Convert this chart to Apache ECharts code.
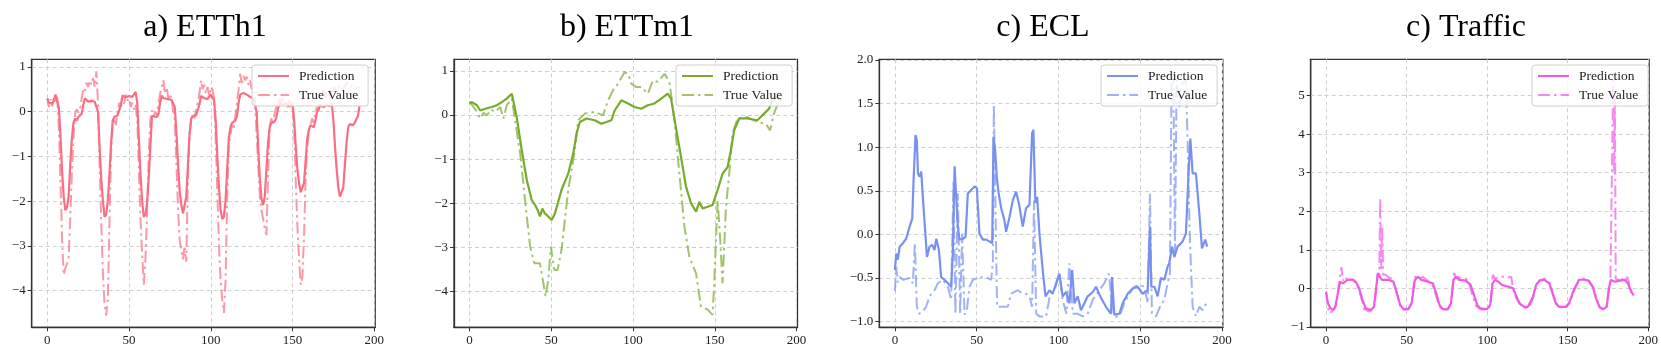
<!DOCTYPE html>
<html>
<head>
<meta charset="utf-8">
<script src="https://cdn.jsdelivr.net/npm/echarts@6/dist/echarts.min.js"></script>
<style>
  body { margin: 0; background: #fff; }
  #chart { width: 1661px; height: 362px; }
</style>
</head>
<body>
<div id="chart"></div>
<script>
// panel titles and tick values
const titles = ['a) ETTh1', 'b) ETTm1', 'c) ECL', 'c) Traffic'];
const xTicks = [0, 50, 100, 150, 200];
const yTicksETTh1 = [-4, -3, -2, -1, 0, 1];
const yTicksETTm1 = [-4, -3, -2, -1, 0, 1];
const yTicksECL = [-1.0, -0.5, 0.0, 0.5, 1.0, 1.5, 2.0];
const yTicksTraffic = [-1, 0, 1, 2, 3, 4, 5];

// [step, value]
const etth1Pred = [[0,0.29],[1,0.2],[2,0.22],[3,0.18],[4,0.25],[5,0.38],[6,0.36],[7,0.1],[8,-0.5],[9,-1.3],[10,-1.9],[11,-2.2],[12,-2.15],[13,-1.9],[14,-1.2],[15,-0.6],[16,-0.25],[17,-0.15],[18,-0.2],[19,-0.12],[20,-0.15],[21,-0.05],[22,0.15],[23,0.3],[24,0.28],[25,0.22],[27,0.24],[29,0.22],[30,0.26],[31,0.0],[32,-0.8],[33,-1.5],[34,-2.0],[35,-2.35],[36,-2.3],[37,-2.0],[38,-1.4],[39,-0.7],[40,-0.2],[41,-0.12],[43,-0.08],[44,-0.05],[45,0.15],[46,0.36],[48,0.32],[50,0.35],[52,0.33],[53,0.36],[54,0.44],[55,0.2],[56,-0.6],[57,-1.4],[58,-2.0],[59,-2.35],[60,-2.3],[61,-2.05],[62,-1.5],[63,-0.8],[64,-0.1],[65,-0.08],[67,-0.12],[68,-0.05],[69,0.2],[70,0.36],[71,0.3],[72,0.26],[74,0.28],[76,0.26],[77,0.27],[78,0.1],[79,-0.5],[80,-1.2],[81,-1.8],[82,-2.1],[83,-2.27],[84,-2.25],[85,-1.9],[86,-1.2],[87,-0.5],[88,-0.15],[89,-0.1],[91,-0.08],[92,-0.05],[93,0.15],[94,0.35],[96,0.3],[98,0.28],[100,0.38],[101,0.35],[102,0.25],[103,-0.2],[104,-1.0],[105,-1.7],[106,-2.2],[107,-2.4],[108,-2.35],[109,-2.0],[110,-1.3],[111,-0.6],[112,-0.35],[113,-0.25],[115,-0.2],[116,-0.1],[117,0.2],[118,0.38],[120,0.42],[122,0.38],[124,0.33],[126,0.3],[127,0.28],[128,0.0],[129,-0.8],[130,-1.5],[131,-1.95],[132,-2.09],[133,-1.9],[134,-1.3],[135,-0.7],[136,-0.35],[137,-0.25],[139,-0.22],[140,-0.15],[141,0.05],[142,0.2],[144,0.15],[146,0.18],[148,0.12],[150,0.15],[151,-0.2],[152,-0.8],[153,-1.3],[154,-1.6],[155,-1.8],[156,-1.83],[157,-1.6],[158,-1.1],[159,-0.6],[160,-0.4],[161,-0.3],[163,-0.35],[164,-0.2],[165,0.0],[166,0.05],[167,0.15],[169,0.1],[171,0.15],[173,0.12],[174,0.18],[175,-0.2],[176,-0.8],[177,-1.3],[178,-1.7],[179,-1.9],[180,-1.92],[181,-1.7],[182,-1.2],[183,-0.7],[184,-0.35],[185,-0.28],[187,-0.3],[188,-0.25],[190,-0.1],[191,0.14]];
const etth1True = [[0,0.3],[1,0.1],[2,0.28],[3,0.12],[4,0.3],[5,0.2],[6,0.35],[7,-0.3],[8,-1.5],[9,-2.8],[10,-3.65],[11,-3.5],[12,-3.4],[13,-3.3],[14,-2.4],[15,-1.4],[16,-0.6],[17,-0.05],[18,0.05],[19,-0.02],[20,0.05],[21,0.3],[22,0.5],[23,0.45],[24,0.65],[25,0.55],[26,0.7],[27,0.6],[28,0.75],[29,0.55],[30,0.9],[31,0.2],[32,-1.2],[33,-2.5],[34,-3.6],[35,-4.3],[36,-4.56],[37,-4.2],[38,-2.5],[39,-0.9],[40,-0.3],[41,-0.15],[42,-0.3],[43,0.0],[44,0.2],[45,0.1],[46,0.3],[47,0.18],[48,0.38],[49,0.25],[50,0.3],[51,0.1],[52,0.2],[53,0.05],[54,0.15],[55,-0.2],[56,-1.3],[57,-2.4],[58,-3.2],[59,-3.87],[60,-3.3],[61,-2.3],[62,-1.0],[63,-0.2],[64,0.03],[65,-0.1],[66,0.0],[67,-0.08],[68,0.2],[69,0.4],[70,0.55],[71,0.7],[72,0.4],[73,0.55],[74,0.3],[75,0.4],[76,0.25],[77,0.28],[78,-0.2],[79,-1.2],[80,-2.2],[81,-2.9],[82,-3.1],[83,-3.3],[84,-3.0],[85,-3.35],[86,-1.5],[87,-0.5],[88,-0.2],[89,-0.05],[90,-0.15],[91,0.05],[92,0.2],[93,0.4],[94,0.7],[95,0.5],[96,0.6],[97,0.4],[98,0.55],[99,0.35],[100,0.55],[101,0.5],[102,0.3],[103,-0.6],[104,-1.8],[105,-3.0],[106,-3.8],[107,-4.2],[108,-4.5],[109,-3.8],[110,-2.0],[111,-0.8],[112,-0.5],[113,-0.3],[114,-0.4],[115,-0.1],[116,0.2],[117,0.5],[118,0.85],[119,0.6],[120,0.8],[121,0.7],[122,0.78],[123,0.6],[124,0.7],[125,0.5],[126,0.55],[127,0.3],[128,-0.5],[129,-1.2],[130,-1.9],[131,-2.2],[132,-2.4],[133,-2.6],[134,-2.76],[135,-1.5],[136,-0.35],[137,-0.15],[138,-0.3],[139,-0.05],[140,0.1],[141,0.2],[142,0.33],[143,0.2],[144,0.3],[145,0.15],[146,0.2],[147,0.1],[148,0.25],[149,0.15],[150,0.2],[151,-0.4],[152,-1.6],[153,-2.6],[154,-3.3],[155,-3.87],[156,-3.7],[157,-2.8],[158,-1.5],[159,-0.8],[160,-0.42],[161,-0.3],[162,-0.15],[163,-0.25],[164,0.0],[165,0.1],[166,0.05],[167,0.25],[168,0.35],[169,0.48],[170,0.3],[171,0.45],[172,0.35],[173,0.5],[174,0.3],[175,0.55],[177,0.45],[179,0.6],[181,0.5],[183,0.65],[185,0.55],[187,0.6],[189,0.5],[191,0.55]];

const ettm1Pred = [[0,0.26],[1.4,0.29],[4.5,0.22],[6.5,0.1],[9.5,0.14],[13.6,0.18],[16.6,0.22],[19.7,0.29],[22.7,0.37],[25.8,0.48],[26.8,0.44],[28.8,-0.05],[31.9,-0.8],[35,-1.48],[38,-1.93],[40,-2.04],[41.6,-2.15],[43,-2.3],[44.5,-2.12],[46,-2.23],[48.1,-2.3],[50.2,-2.38],[52.2,-2.23],[56.2,-1.7],[60.3,-1.33],[63.4,-0.87],[65.4,-0.42],[67.4,-0.16],[71.5,-0.08],[76.5,-0.12],[80.6,-0.2],[83.7,-0.16],[86.7,-0.12],[88.7,0.1],[92.8,0.33],[96.9,0.26],[100.9,0.18],[105,0.14],[109,0.22],[113.1,0.26],[117.2,0.37],[121.2,0.48],[123.2,0.37],[126.3,-0.31],[129.3,-0.95],[132.4,-1.63],[135.4,-2.0],[138.5,-2.19],[140.5,-1.97],[142.5,-2.12],[145.6,-2.08],[148.6,-2.04],[151.7,-1.7],[154.7,-1.33],[157.8,-1.18],[159.8,-0.8],[161.8,-0.35],[164.9,-0.08],[169.9,-0.08],[176,-0.12],[180.1,0.03],[183.1,0.14],[186.2,0.41],[191,0.33]];
const ettm1True = [[0,0.3],[2.4,0.18],[4.5,0.07],[6.5,-0.08],[8.5,0.05],[10.6,-0.01],[13,0.12],[15.6,0.07],[18.7,0.18],[20.7,-0.08],[22.7,0.22],[25.8,0.37],[27.8,-0.12],[30.9,-0.87],[33.9,-1.93],[37,-2.98],[39.6,-3.36],[43,-3.36],[45.1,-3.81],[46.5,-4.11],[48.1,-3.74],[49.7,-2.98],[51.8,-3.51],[53.8,-3.51],[56.2,-3.06],[60.3,-1.7],[64.4,-0.8],[66.4,-0.12],[70.5,0.03],[76.5,0.07],[81.6,-0.01],[84.7,0.33],[87.7,0.56],[90.8,0.71],[94.8,0.97],[96.9,0.93],[98.9,0.71],[101.9,0.63],[105,0.63],[109,0.48],[112.1,0.78],[115.1,0.75],[119.2,0.93],[122.2,0.75],[125.3,-0.12],[128.3,-1.33],[131.4,-2.53],[134.4,-3.21],[138.5,-3.59],[141.5,-4.34],[145.6,-4.41],[148.6,-4.53],[149.6,-3.81],[151.7,-1.93],[153.3,-2.83],[154.7,-3.81],[156.8,-2.08],[158.8,-1.33],[160.8,-0.42],[163.9,-0.08],[169.9,-0.05],[176,-0.16],[181.1,-0.2],[183.8,-0.35],[186.2,0.03],[189.2,0.33],[191,0.33]];

const eclPred = [[0,-0.41],[0.8,-0.22],[1.8,-0.29],[2.9,-0.14],[4.9,-0.1],[6.9,-0.05],[9,0.09],[10.6,0.18],[11.4,0.62],[12.6,1.14],[13.4,1.08],[14.1,0.7],[15.1,0.66],[16.1,0.72],[17.1,0.43],[18.1,0.15],[19.6,-0.26],[21.2,-0.14],[22.8,-0.12],[24.2,-0.18],[25.3,-0.05],[26.9,-0.18],[28.3,-0.49],[31.4,-0.54],[34.4,-0.6],[35.4,-0.22],[36.5,0.78],[37.5,0.43],[38.5,0.09],[39.5,-0.06],[41.5,-0.05],[43.2,-0.03],[44.6,0.47],[46.6,0.51],[48.7,0.55],[50.1,0.53],[51.7,0.01],[53.8,-0.06],[55.8,-0.06],[57.8,-0.08],[59.5,-0.1],[60.3,1.12],[61.3,0.97],[62.3,0.66],[63.3,0.49],[65,0.3],[67,0.16],[68,0.03],[70.1,0.2],[72.1,0.39],[74.1,0.49],[75.8,0.36],[78.2,0.09],[80.2,0.3],[82.3,0.34],[83.9,1.16],[84.7,1.2],[85.9,0.36],[87,0.43],[88.4,0.01],[90.4,-0.41],[92.1,-0.71],[94.5,-0.64],[96.5,-0.68],[98.6,-0.56],[100.6,-0.45],[102.6,-0.71],[104.7,-0.66],[106.7,-0.79],[108.4,-0.41],[109.8,-0.79],[111.8,-0.71],[113.8,-0.87],[115.9,-0.79],[117.9,-0.71],[121,-0.66],[123,-0.6],[126.1,-0.73],[129.1,-0.83],[132.2,-0.91],[132.8,-0.49],[134.2,-0.92],[137.3,-0.91],[139.3,-0.79],[142.4,-0.68],[145.4,-0.62],[148.5,-0.6],[151.5,-0.68],[154.6,-0.64],[156,0.09],[156.8,-0.6],[158.7,-0.6],[160.7,-0.71],[162.7,-0.5],[164.8,-0.52],[166.8,-0.37],[167.8,-0.33],[169.5,-0.14],[170.9,-0.26],[172.9,-0.14],[176,-0.08],[178,0.01],[179.6,0.7],[180.7,1.1],[182.1,0.7],[184.1,0.7],[186.2,0.24],[187.8,-0.16],[189.8,-0.06],[191,-0.14]];
const eclTrue = [[0,-0.65],[0.8,-0.37],[1.8,-0.55],[2.9,-0.49],[4.9,-0.52],[9,-0.5],[11,-0.56],[12.2,-0.1],[13.4,-0.83],[14.7,-0.91],[16.7,-0.89],[19.1,-0.83],[21.2,-0.71],[24.2,-0.64],[26.3,-0.56],[29.3,-0.52],[32.4,-0.6],[34.4,-0.75],[35.8,0.62],[37,-0.91],[38.5,0.47],[39.9,-0.91],[41.1,0.01],[42.6,-0.92],[44,-0.87],[45.6,-0.6],[47.7,-0.52],[50.7,-0.5],[53.8,-0.49],[56.8,-0.5],[58.9,-0.52],[59.9,-0.33],[60.5,1.48],[61.5,0.32],[62.5,-0.83],[66,-0.83],[69,-0.83],[71.1,-0.68],[75.2,-0.64],[78.2,-0.68],[80.2,-0.68],[82.3,-0.71],[83.9,-0.83],[85.1,0.39],[86.4,-0.91],[88.4,-0.94],[92.5,-0.94],[94.5,-0.73],[97.6,-0.64],[100.6,-0.45],[102.6,-0.75],[104.9,-0.91],[106.7,-0.33],[108.8,-0.91],[111.8,-0.91],[114.9,-0.94],[117.9,-0.91],[121,-0.75],[125,-0.64],[128.1,-0.56],[130.8,-0.45],[132.2,-0.68],[134.2,-0.94],[137.3,-0.94],[140.3,-0.79],[143.4,-0.68],[146.4,-0.6],[149.5,-0.58],[152.5,-0.6],[154.6,-0.79],[156,0.47],[157.2,-0.91],[159.7,-0.94],[162.1,-0.83],[164.8,-0.75],[166.8,-0.56],[168.2,-0.45],[169.2,1.77],[170.3,1.86],[171.3,-0.22],[172.3,1.77],[173.9,1.46],[175.6,1.73],[178,1.77],[179,1.08],[180.4,-0.06],[182.1,-0.83],[184.1,-0.94],[186.2,-0.83],[188.2,-0.87],[191,-0.77]];

const trafficPred = [[0,-0.09],[1.2,-0.39],[2.8,-0.52],[4.3,-0.56],[5.7,-0.48],[7.3,-0.13],[8.7,0.17],[10.4,0.13],[13.4,0.22],[16.5,0.23],[18.5,0.17],[20.5,0],[22.6,-0.3],[24.6,-0.52],[27.7,-0.56],[29.7,-0.48],[30.7,-0.13],[32.1,0.39],[33.4,0.29],[34.8,0.22],[38.9,0.22],[41.9,0.17],[43.9,-0.13],[46,-0.43],[48,-0.54],[51,-0.54],[53.1,-0.39],[55.1,0.22],[57.2,0.3],[59.2,0.22],[63.3,0.17],[66.3,0.13],[68.4,-0.13],[70.4,-0.43],[72.4,-0.54],[75.5,-0.54],[77.5,-0.39],[79.1,0.22],[80.6,0.3],[82.6,0.22],[86.7,0.2],[89.7,0.09],[91.8,-0.17],[93.8,-0.43],[95.8,-0.52],[99.9,-0.54],[101.9,-0.43],[103.4,0.13],[105,0.22],[107,0.17],[109.1,0.09],[113.1,0.04],[116.2,0],[118.2,-0.22],[120.2,-0.39],[122.9,-0.48],[125.3,-0.48],[128.4,-0.22],[130.4,0.09],[132.5,0.2],[135.5,0.22],[138.6,0.13],[140.6,-0.13],[142.6,-0.39],[144.7,-0.48],[148.7,-0.48],[150.8,-0.39],[153.8,-0.04],[156.9,0.22],[159.9,0.23],[163,0.2],[165.6,0.04],[167.6,-0.26],[169.7,-0.48],[172.1,-0.54],[174.2,-0.48],[175.8,0.04],[176.8,0.22],[179.2,0.17],[182.3,0.2],[185.3,0.22],[187.4,0.13],[189.4,-0.09],[191,-0.17]];
const trafficTrue = [[0,-0.1],[1,-0.45],[2,-0.65],[3.5,-0.6],[5,-0.55],[6.5,-0.4],[7.5,0.0],[8.5,0.25],[9.5,0.55],[10.5,0.2],[11.5,0.3],[13.5,0.22],[16.5,0.22],[18.5,0.15],[20.5,-0.05],[22.5,-0.35],[24,-0.62],[25,-0.5],[26,-0.6],[28,-0.58],[30,-0.45],[31,-0.1],[32.2,0.4],[33,0.3],[33.6,2.35],[34.2,0.5],[34.8,1.6],[35.5,0.35],[37,0.35],[39,0.28],[41,0.25],[43,0.0],[44.5,-0.2],[46,-0.45],[48,-0.55],[51,-0.55],[53,-0.4],[55,0.3],[56,0.35],[58,0.25],[60,0.3],[63,0.2],[66,0.1],[68,-0.15],[70,-0.45],[72,-0.55],[75.5,-0.55],[77.5,-0.4],[79.5,0.45],[80.5,0.25],[82,0.3],[84,0.25],[87,0.25],[89,0.1],[91,-0.2],[93,-0.45],[96,-0.55],[100,-0.55],[102,-0.45],[103.5,0.35],[105,0.25],[107,0.3],[110,0.3],[113,0.28],[115,0.3],[116,0.0],[118,-0.25],[120,-0.4],[123,-0.5],[126,-0.5],[128.5,-0.25],[130.5,0.1],[133,0.22],[136,0.25],[138.5,0.18],[141,-0.15],[143,-0.4],[146,-0.5],[149,-0.48],[151,-0.4],[154,-0.05],[157,0.2],[160,0.25],[163,0.2],[166,0.0],[168,-0.3],[170,-0.5],[172,-0.55],[174,-0.5],[175.5,0.0],[176.5,0.2],[177.5,0.2],[178.3,5.6],[178.8,3.0],[179.3,5.0],[179.8,0.25],[181,0.2],[183,0.2],[185,0.3],[186,0.15],[187,0.3],[189,0.0],[191,-0.2]];

const panels = [
  { name: 'ETTh1', pred: etth1Pred, truth: etth1True, yTicks: yTicksETTh1, yMin: -4.82, yMax: 1.17, color: '#f86e82', left: 31.7, titleX: 205, legendX: 252, digits: 0 },
  { name: 'ETTm1', pred: ettm1Pred, truth: ettm1True, yTicks: yTicksETTm1, yMin: -4.81, yMax: 1.26, color: '#78aa2d', left: 454, titleX: 627, legendX: 676, digits: 0 },
  { name: 'ECL', pred: eclPred, truth: eclTrue, yTicks: yTicksECL, yMin: -1.065, yMax: 2.008, color: '#7891f0', left: 879.3, titleX: 1043, legendX: 1101, digits: 1 },
  { name: 'Traffic', pred: trafficPred, truth: trafficTrue, yTicks: yTicksTraffic, yMin: -1.01, yMax: 5.94, color: '#f05ae6', left: 1310.7, titleX: 1466, legendX: 1532, digits: 0 }
];

const font = 'Liberation Serif';
const frame = '#333';
const gridLine = { show: true, lineStyle: { color: '#cfcfcf', width: 1, type: [4, 3] } };

function fmt(v, d) {
  const s = Math.abs(v).toFixed(d);
  return v < 0 ? '\u2212' + s : s;
}

const option = {
  backgroundColor: '#fff',
  animation: false,
  title: [], grid: [], xAxis: [], yAxis: [], legend: [], series: []
};

panels.forEach((p, i) => {
  option.title.push({
    text: titles[i], left: p.titleX, top: 12, textAlign: 'center', padding: 0,
    textStyle: { fontFamily: font, fontSize: 32, fontWeight: 'normal', color: '#000' }
  });
  option.grid.push({
    left: p.left, top: 59.3, width: 343.5, height: 268,
    show: true, borderColor: frame, borderWidth: 1.3, backgroundColor: '#fff'
  });
  option.xAxis.push({
    type: 'value', gridIndex: i, min: -9.55, max: 200.55,
    axisLine: { show: true, onZero: false, lineStyle: { color: frame, width: 1.3 } },
    axisTick: { show: true, length: 4, customValues: xTicks, lineStyle: { color: frame } },
    axisLabel: { customValues: xTicks, margin: 7, color: '#222', fontFamily: font, fontSize: 13 },
    splitLine: gridLine
  });
  option.yAxis.push({
    type: 'value', gridIndex: i, min: p.yMin, max: p.yMax,
    axisLine: { show: true, onZero: false, lineStyle: { color: frame, width: 1.3 } },
    axisTick: { show: true, length: 4, customValues: p.yTicks, lineStyle: { color: frame } },
    axisLabel: { customValues: p.yTicks, margin: 6, color: '#222', fontFamily: font, fontSize: 13,
      formatter: v => fmt(v, p.digits) },
    splitLine: gridLine
  });
  const predName = p.name + '|Prediction';
  const trueName = p.name + '|True Value';
  option.legend.push({
    data: [predName, trueName], orient: 'vertical', left: p.legendX, top: 65,
    padding: [4, 10, 4, 5], itemWidth: 31, itemHeight: 12, itemGap: 5,
    backgroundColor: 'rgba(255,255,255,0.8)', borderColor: '#d0d0d0', borderWidth: 1, borderRadius: 3,
    // line only, no marker in the key
    itemStyle: { color: 'transparent', borderWidth: 0, opacity: 0 },
    formatter: n => n.split('|')[1],
    textStyle: { fontFamily: font, fontSize: 13.5, color: '#222', padding: [0, 0, 0, 5] }
  });
  option.series.push({
    name: predName, type: 'line', xAxisIndex: i, yAxisIndex: i, data: p.pred,
    symbol: 'none', lineStyle: { color: p.color, width: 2.2 }, itemStyle: { color: p.color }
  });
  option.series.push({
    name: trueName, type: 'line', xAxisIndex: i, yAxisIndex: i, data: p.truth,
    symbol: 'none', lineStyle: { color: p.color, width: 2, opacity: 0.7, type: [12, 4, 2.5, 4] },
    itemStyle: { color: p.color, opacity: 0.7 }
  });
});

const chart = echarts.init(document.getElementById('chart'));
chart.setOption(option);
</script>
</body>
</html>
